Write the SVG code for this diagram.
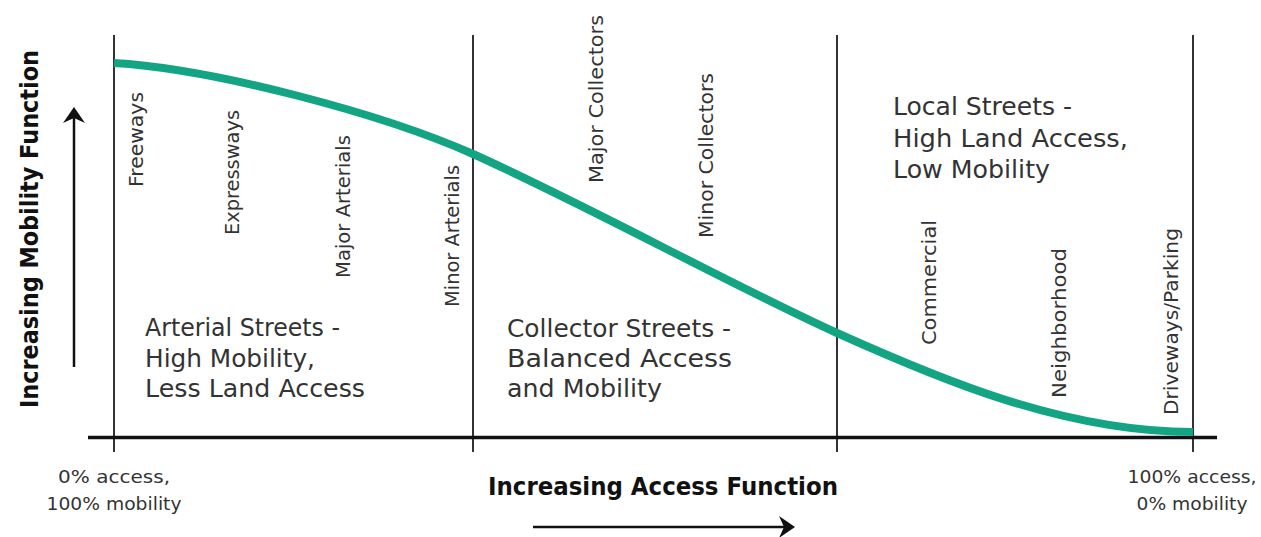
<svg xmlns="http://www.w3.org/2000/svg" width="1261" height="537" viewBox="0 0 1261 537">
  <style>
    .grid { stroke: #333; stroke-width: 2; fill: none; }
    .axis { stroke: #111; stroke-width: 3.5; fill: none; }
    .curve { stroke: #13a583; stroke-width: 8; fill: none; stroke-linecap: butt; }
    .shaft { stroke: #111; stroke-width: 2.5; fill: none; }
    .head { fill: #111; }
    .cls { font-family: "DejaVu Sans", "Liberation Sans", sans-serif; font-size: 19px; fill: #333; }
    .zone { font-family: "DejaVu Sans", "Liberation Sans", sans-serif; font-size: 25px; fill: #333; }
    .end { font-family: "DejaVu Sans", "Liberation Sans", sans-serif; font-size: 18px; fill: #333; text-anchor: middle; }
    .title { font-family: "DejaVu Sans", "Liberation Sans", sans-serif; font-size: 24px; font-weight: bold; fill: #111; }
  </style>
  <rect width="1261" height="537" fill="#fff"/>

  <!-- frame: division lines and access axis -->
  <g id="frame">
    <line class="grid" x1="114" y1="35" x2="114" y2="452"/>
    <line class="grid" x1="473" y1="35" x2="473" y2="452"/>
    <line class="grid" x1="837" y1="35" x2="837" y2="452"/>
    <line class="grid" x1="1193" y1="35" x2="1193" y2="452"/>
    <line class="axis" x1="88" y1="437.5" x2="1217" y2="437.5"/>
  </g>

  <!-- mobility vs access curve and direction arrows -->
  <g id="connectors">
    <path class="curve" d="M114,63 C215,69 383,114 473,154 C593,208 727,283 837,333 C937,378 1063,432 1193,432"/>
    <line class="shaft" x1="74" y1="367" x2="74" y2="114"/>
    <path class="head" d="M74,107 L85,123 L74,118 L63,123 Z"/>
    <line class="shaft" x1="533" y1="527" x2="788" y2="527"/>
    <path class="head" d="M795,527 L779,538 L784,527 L779,516 Z"/>
  </g>

  <!-- street class labels -->
  <g id="classes">
    <text class="cls" transform="translate(143,187) rotate(-90)" textLength="95" lengthAdjust="spacingAndGlyphs">Freeways</text>
    <text class="cls" transform="translate(238.5,235) rotate(-90)" textLength="125" lengthAdjust="spacingAndGlyphs">Expressways</text>
    <text class="cls" transform="translate(350,278) rotate(-90)" textLength="143" lengthAdjust="spacingAndGlyphs">Major Arterials</text>
    <text class="cls" transform="translate(459,307) rotate(-90)" textLength="142" lengthAdjust="spacingAndGlyphs">Minor Arterials</text>
    <text class="cls" transform="translate(603,183) rotate(-90)" textLength="168" lengthAdjust="spacingAndGlyphs">Major Collectors</text>
    <text class="cls" transform="translate(713,238) rotate(-90)" textLength="165" lengthAdjust="spacingAndGlyphs">Minor Collectors</text>
    <text class="cls" transform="translate(936,345) rotate(-90)" textLength="125" lengthAdjust="spacingAndGlyphs">Commercial</text>
    <text class="cls" transform="translate(1066,398) rotate(-90)" textLength="150" lengthAdjust="spacingAndGlyphs">Neighborhood</text>
    <text class="cls" transform="translate(1178,415) rotate(-90)" textLength="187" lengthAdjust="spacingAndGlyphs">Driveways/Parking</text>
  </g>

  <g id="arterial">
    <text class="zone" x="145" y="336" textLength="195" lengthAdjust="spacingAndGlyphs">Arterial Streets -</text>
    <text class="zone" x="145" y="367" textLength="170" lengthAdjust="spacingAndGlyphs">High Mobility,</text>
    <text class="zone" x="145" y="397" textLength="220" lengthAdjust="spacingAndGlyphs">Less Land Access</text>
  </g>

  <g id="collector">
    <text class="zone" x="507" y="337" textLength="224" lengthAdjust="spacingAndGlyphs">Collector Streets -</text>
    <text class="zone" x="507" y="367" textLength="225" lengthAdjust="spacingAndGlyphs">Balanced Access</text>
    <text class="zone" x="507" y="397" textLength="155" lengthAdjust="spacingAndGlyphs">and Mobility</text>
  </g>

  <g id="local">
    <text class="zone" x="893" y="115" textLength="179" lengthAdjust="spacingAndGlyphs">Local Streets -</text>
    <text class="zone" x="893" y="147" textLength="235" lengthAdjust="spacingAndGlyphs">High Land Access,</text>
    <text class="zone" x="893" y="178" textLength="157" lengthAdjust="spacingAndGlyphs">Low Mobility</text>
  </g>

  <g id="ends">
    <text class="end" x="114" y="483" textLength="112" lengthAdjust="spacingAndGlyphs">0% access,</text>
    <text class="end" x="114" y="510" textLength="135" lengthAdjust="spacingAndGlyphs">100% mobility</text>
    <text class="end" x="1192" y="483" textLength="129" lengthAdjust="spacingAndGlyphs">100% access,</text>
    <text class="end" x="1192" y="510" textLength="111" lengthAdjust="spacingAndGlyphs">0% mobility</text>
  </g>

  <g id="titles">
    <text class="title" x="488" y="495" textLength="350" lengthAdjust="spacingAndGlyphs">Increasing Access Function</text>
    <text class="title" transform="translate(38,408) rotate(-90)" textLength="358" lengthAdjust="spacingAndGlyphs">Increasing Mobility Function</text>
  </g>
</svg>
